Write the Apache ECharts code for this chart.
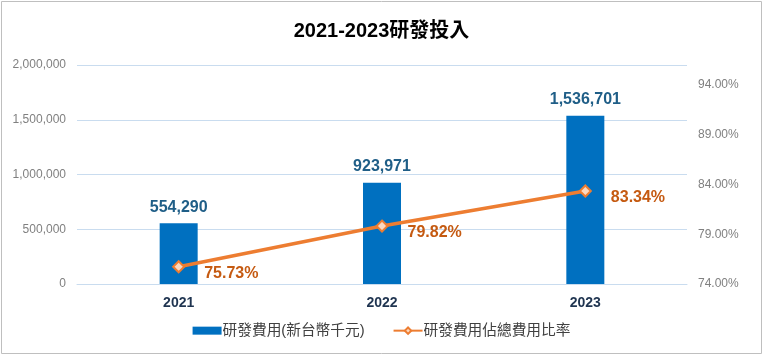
<!DOCTYPE html>
<html><head><meta charset="utf-8">
<script src="https://cdn.jsdelivr.net/npm/echarts@6/dist/echarts.min.js"></script>
<style>html,body{margin:0;padding:0;background:#fff}#c{width:763px;height:356px}</style>
</head><body><div id="c"></div>
<script>
const categories = ['2021', '2022', '2023'];
const rdExpense = [554290, 923971, 1536701];
const rdRatio = [75.73, 79.82, 83.34];
const seriesNames = ['研發費用(新台幣千元)', '研發費用佔總費用比率'];
const titleText = '2021-2023研發投入';

const chart = echarts.init(document.getElementById('c'));
const font = '"Liberation Sans", Arial, "Noto Sans CJK TC", sans-serif';
chart.setOption({
  textStyle: { fontFamily: font },
  title: { text: titleText, left: 'center', top: 16,
    textStyle: { fontSize: 20, fontWeight: 'bold', color: '#000', fontFamily: font } },
  graphic: [{ type: 'rect', shape: { x: 1.5, y: 1.5, width: 760, height: 352 },
    style: { fill: 'none', stroke: '#bfbfbf', lineWidth: 1 }, silent: true }],
  legend: { bottom: 13, itemGap: 28, itemWidth: 29, itemHeight: 8,
    textStyle: { fontSize: 14.7, color: '#404040', fontFamily: font, padding: [0,0,0,-4] },
    data: [{ name: seriesNames[0], icon: 'rect' }, { name: seriesNames[1] }] },
  grid: { left: 77, right: 76, top: 65, bottom: 72 },
  xAxis: { type: 'category', data: categories,
    axisLine: { show: true, lineStyle: { color: '#c9dcef' } }, axisTick: { show: false },
    axisLabel: { margin: 12, fontSize: 14, fontWeight: 'bold', color: '#1f3450' } },
  yAxis: [
    { type: 'value', min: 0, max: 2000000, interval: 500000,
      axisLine: { show: false }, axisTick: { show: false },
      splitLine: { lineStyle: { color: '#c9dcef' } },
      axisLabel: { margin: 11, fontSize: 12, color: '#808080',
        formatter: v => v.toLocaleString('en-US') } },
    { type: 'value', min: 74, max: 96, interval: 5, position: 'right',
      axisLine: { show: false }, axisTick: { show: false }, splitLine: { show: false },
      axisLabel: { margin: 11, fontSize: 12, color: '#808080', showMaxLabel: false,
        formatter: v => v.toFixed(2) + '%' } }
  ],
  series: [
    { name: seriesNames[0], type: 'bar', data: rdExpense, barWidth: 38,
      itemStyle: { color: '#0070c0' },
      label: { show: true, position: 'top', distance: 8, fontSize: 16, fontWeight: 'bold',
        color: '#1f5e87', formatter: p => p.value.toLocaleString('en-US') } },
    { name: seriesNames[1], type: 'line', yAxisIndex: 1, data: rdRatio,
      symbol: 'diamond', symbolSize: 11,
      lineStyle: { color: '#ed7d31', width: 3.5 },
      itemStyle: { color: '#fbd9c0', borderColor: '#ed7d31', borderWidth: 2 },
      label: { show: true, position: 'right', distance: 19, offset: [0, 7], fontSize: 16,
        fontWeight: 'bold', color: '#c55a11', formatter: p => p.value.toFixed(2) + '%' } }
  ]
});
</script></body></html>
